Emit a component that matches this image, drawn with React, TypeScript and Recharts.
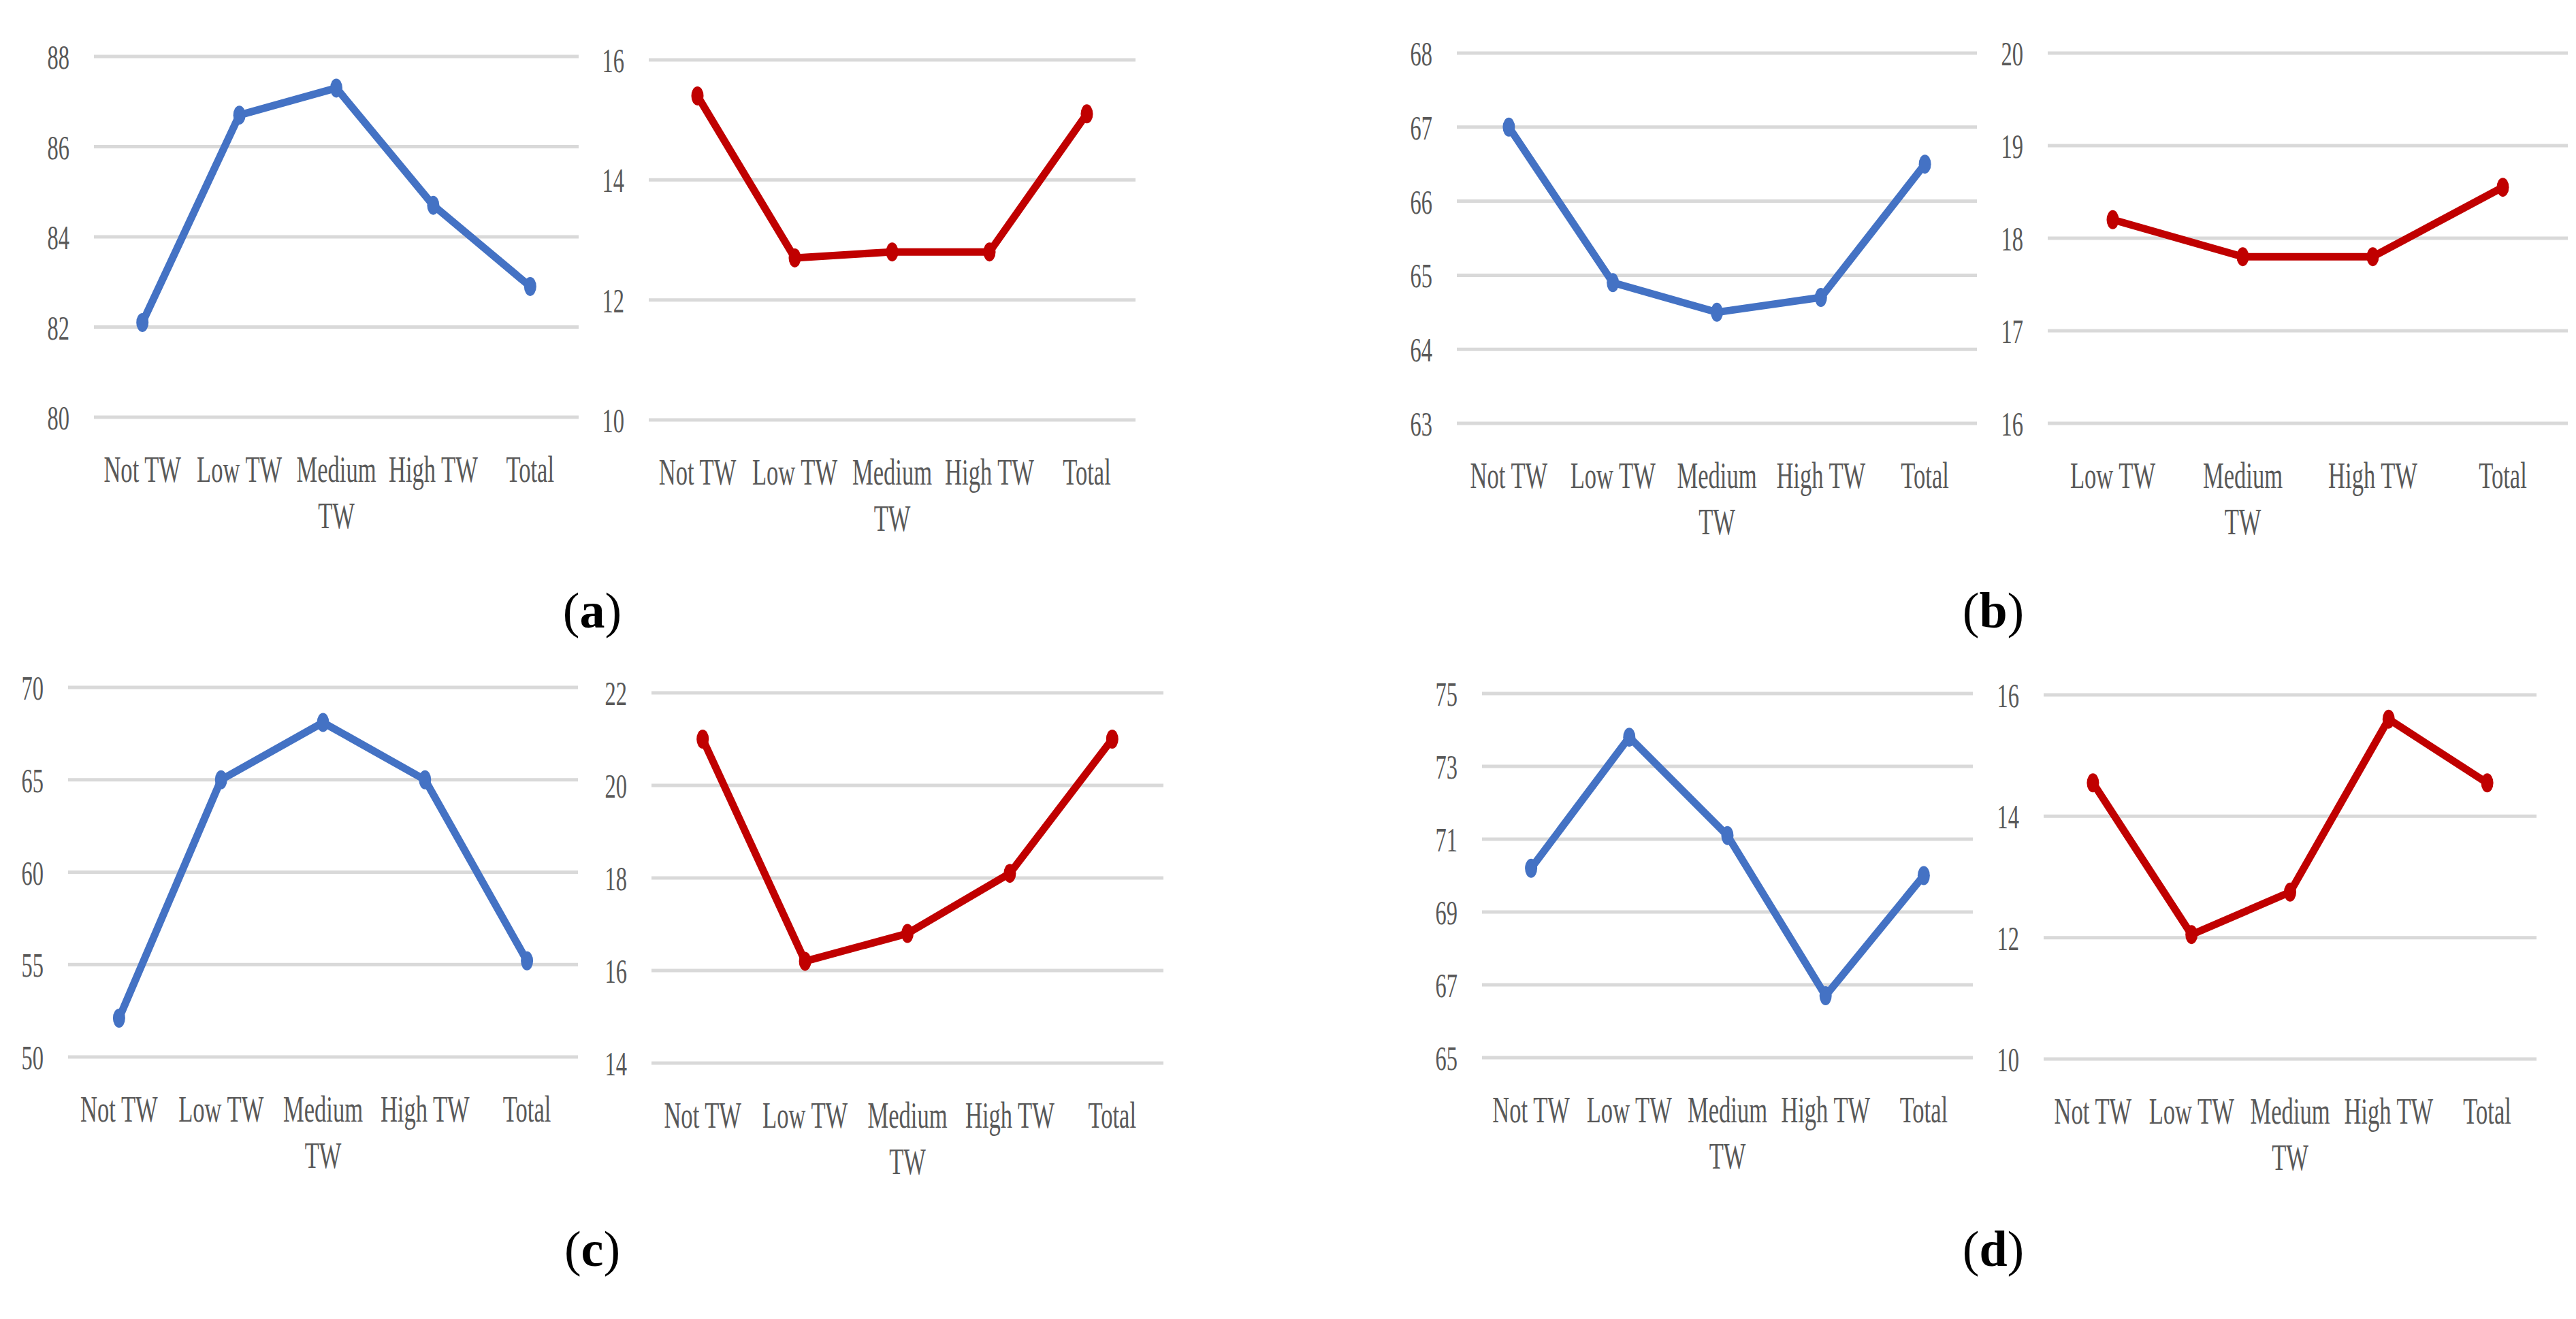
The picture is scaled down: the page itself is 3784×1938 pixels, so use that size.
import React from "react";
import { CartesianGrid, Line, LineChart, XAxis, YAxis } from "recharts";

// categories
const levels = ["Not TW", "Low TW", "Medium TW", "High TW", "Total"];
const levelsNoNot = ["Low TW", "Medium TW", "High TW", "Total"];

// series values
const aLeft = [82.1, 86.7, 87.3, 84.7, 82.9];
const aRight = [15.4, 12.7, 12.8, 12.8, 15.1];
const bLeft = [67.0, 64.9, 64.5, 64.7, 66.5];
const bRight = [18.2, 17.8, 17.8, 18.55];
const cLeft = [52.1, 65.0, 68.1, 65.0, 55.2];
const cRight = [21.0, 16.2, 16.8, 18.1, 21.0];
const dLeft = [70.2, 73.8, 71.1, 66.7, 70.0];
const dRight = [14.55, 12.05, 12.75, 15.6, 14.55];

// y tick labels
const aLeftTicks = [80, 82, 84, 86, 88];
const aRightTicks = [10, 12, 14, 16];
const bLeftTicks = [63, 64, 65, 66, 67, 68];
const bRightTicks = [16, 17, 18, 19, 20];
const cLeftTicks = [50, 55, 60, 65, 70];
const cRightTicks = [14, 16, 18, 20, 22];
const dLeftTicks = [65, 67, 69, 71, 73, 75];
const dRightTicks = [10, 12, 14, 16];

const captions = ["a", "b", "c", "d"];

const BLUE = "#4472C4";
const RED = "#C00000";
const GRID = "#d9d9d9";
const TEXT = "#595959";
const FONT = "'Liberation Serif', 'DejaVu Serif', serif";

const YW = 100;
const TOP = 30;
const RIGHT = 30;
const XH = 200;

function YTick({ x, y, payload }: any) {
  return (
    <g transform={`translate(${x},${y})`}>
      <text
        textAnchor="end"
        dy="0.36em"
        fill={TEXT}
        fontFamily={FONT}
        fontSize={50}
        transform="scale(0.65,1)"
      >
        {payload.value}
      </text>
    </g>
  );
}

function XTick({ x, y, payload }: any) {
  const label = String(payload.value);
  const lines = label.length > 8 ? label.split(" ") : [label];
  return (
    <g transform={`translate(${x},${y})`}>
      <text
        textAnchor="middle"
        fill={TEXT}
        fontFamily={FONT}
        fontSize={54}
        transform="scale(0.64,1)"
      >
        {lines.map((l, i) => (
          <tspan key={i} x={0} y={95 + i * 68}>
            {l}
          </tspan>
        ))}
      </text>
    </g>
  );
}

function Panel({ cats, values, ticks, color, left, right, top, bottom }: any) {
  const data = cats.map((name: string, i: number) => ({ name, value: values[i] }));
  const plotW = right - left;
  const plotH = bottom - top;
  const pad = plotW / (cats.length * 2);
  return (
    <div style={{ position: "absolute", left: left - YW, top: top - TOP }}>
      <LineChart
        width={YW + plotW + RIGHT}
        height={TOP + plotH + XH}
        data={data}
        margin={{ top: TOP, right: RIGHT, left: 0, bottom: 0 }}
      >
        <CartesianGrid vertical={false} stroke={GRID} strokeWidth={5} />
        <XAxis
          dataKey="name"
          height={XH}
          padding={{ left: pad, right: pad }}
          axisLine={false}
          tickLine={false}
          tickSize={0}
          tickMargin={0}
          interval={0}
          tick={<XTick />}
        />
        <YAxis
          width={YW}
          domain={[ticks[0], ticks[ticks.length - 1]]}
          ticks={ticks}
          interval={0}
          axisLine={false}
          tickLine={false}
          tickSize={0}
          tickMargin={36}
          tick={<YTick />}
        />
        <Line
          type="linear"
          dataKey="value"
          stroke={color}
          strokeWidth={11}
          strokeLinejoin="round"
          isAnimationActive={false}
          dot={(p: any) => (
            <ellipse key={p.index} cx={p.cx} cy={p.cy} rx={9} ry={14} fill={color} />
          )}
          activeDot={false}
        />
      </LineChart>
    </div>
  );
}

export default function App() {
  const capPos = [
    [870, 922],
    [2928, 922],
    [870, 1860],
    [2928, 1860],
  ];
  return (
    <div
      style={{
        position: "absolute",
        left: 0,
        top: 0,
        width: 3784,
        height: 1938,
        background: "#fff",
        overflow: "hidden",
      }}
    >
      <Panel cats={levels} values={aLeft} ticks={aLeftTicks} color={BLUE} left={138} right={850} top={83} bottom={613} />
      <Panel cats={levels} values={aRight} ticks={aRightTicks} color={RED} left={953} right={1668} top={88} bottom={617} />
      <Panel cats={levels} values={bLeft} ticks={bLeftTicks} color={BLUE} left={2140} right={2904} top={78} bottom={622} />
      <Panel cats={levelsNoNot} values={bRight} ticks={bRightTicks} color={RED} left={3008} right={3772} top={78} bottom={622} />
      <Panel cats={levels} values={cLeft} ticks={cLeftTicks} color={BLUE} left={100} right={849} top={1010} bottom={1553} />
      <Panel cats={levels} values={cRight} ticks={cRightTicks} color={RED} left={957} right={1709} top={1018} bottom={1562} />
      <Panel cats={levels} values={dLeft} ticks={dLeftTicks} color={BLUE} left={2177} right={2898} top={1019} bottom={1554} />
      <Panel cats={levels} values={dRight} ticks={dRightTicks} color={RED} left={3002} right={3726} top={1021} bottom={1556} />
      <svg
        width={3784}
        height={1938}
        style={{ position: "absolute", left: 0, top: 0, pointerEvents: "none" }}
      >
        {captions.map((c, i) => (
          <text
            key={c}
            x={capPos[i][0]}
            y={capPos[i][1]}
            textAnchor="middle"
            fontFamily={FONT}
            fontSize={74}
            fill="#000"
          >
            (<tspan fontWeight="bold">{c}</tspan>)
          </text>
        ))}
      </svg>
    </div>
  );
}
